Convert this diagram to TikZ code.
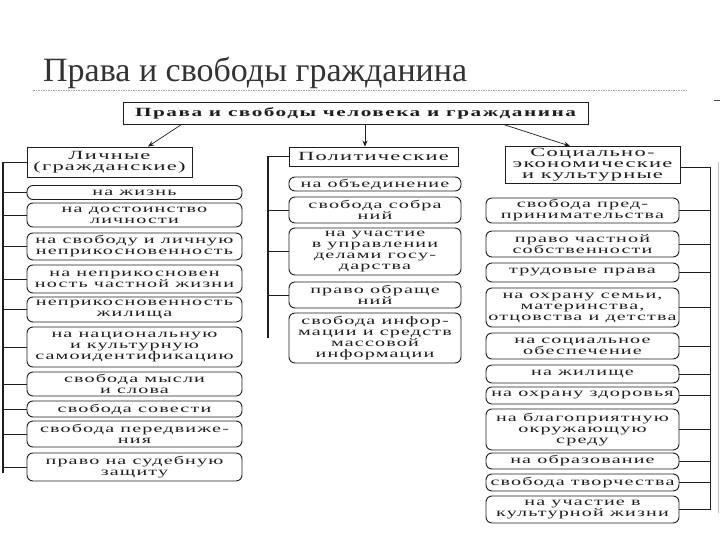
\documentclass[tikz,border=0pt]{standalone}
\usepackage{fontspec}
\setmainfont{Liberation Serif}
\newfontfamily\bxf[FakeStretch=1.75,LetterSpace=10]{Liberation Serif}
\newfontfamily\hdf[FakeStretch=1.8,LetterSpace=10]{Liberation Serif}
\newfontfamily\tpf[FakeStretch=1.7,LetterSpace=12]{Liberation Serif}
\newfontfamily\ttlf{Liberation Serif}
\usetikzlibrary{arrows.meta}
\definecolor{ink}{HTML}{1E1E1E}
\begin{document}
\begin{tikzpicture}[x=1pt,y=-1pt,
  box/.style={draw=ink,line width=0.9pt,rounded corners=6pt,inner sep=0pt,align=center,
    font=\bxf\fontsize{11.5}{11}\selectfont,text=ink},
  hdr/.style={draw=ink,line width=0.9pt,inner sep=0pt,align=center,
    font=\hdf\fontsize{12.5}{11.2}\selectfont,text=ink},
  conn/.style={draw=ink,line width=0.8pt},
  spine/.style={draw=ink,line width=1.4pt},
  arr/.style={draw=ink,line width=0.7pt,-{Stealth[length=6pt,width=5pt]}}]
\useasboundingbox (0,0) rectangle (720,540);
\fill[white] (0,0) rectangle (720,540);
% title
\node[anchor=base west,inner sep=0pt,text=black!80,font=\ttlf\fontsize{34}{36}\selectfont] (title) at (43,82) {Права и свободы гражданина};
\draw[black!35,line width=0.6pt,dash pattern=on 1.5pt off 1pt] (33,90) -- (688,90);
\draw[black!70,line width=0.6pt] (714,100) -- (720,100);
\draw[black!25,line width=1pt] (718,162) -- (718,513);
% top box
\node[hdr,minimum width=465pt,minimum height=22pt,font=\tpf\bfseries\fontsize{12.5}{12}\selectfont] (T) at (355.5,113) {Права и свободы человека и гражданина};
% left column
\node[hdr,minimum width=165pt,minimum height=30pt] (L0) at (109.5,162) {Личные\\(гражданские)};
\node[box,minimum width=215pt,minimum height=14pt] (L1) at (134.5,192.5) {на жизнь};
\node[box,minimum width=215pt,minimum height=24pt] (L2) at (134.5,215) {на достоинство\\личности};
\node[box,minimum width=215pt,minimum height=27pt] (L3) at (134.5,246.5) {на свободу и личную\\неприкосновенность};
\node[box,minimum width=215pt,minimum height=28pt] (L4) at (134.5,279) {на неприкосновен\\ность частной жизни};
\node[box,minimum width=215pt,minimum height=25pt] (L5) at (134.5,309.5) {неприкосновенность\\жилища};
\node[box,minimum width=215pt,minimum height=40pt] (L6) at (134.5,347) {на национальную\\и культурную\\самоидентификацию};
\node[box,minimum width=215pt,minimum height=24pt] (L7) at (134.5,384) {свобода мысли\\и слова};
\node[box,minimum width=215pt,minimum height=16pt] (L8) at (134.5,409) {свобода совести};
\node[box,minimum width=215pt,minimum height=26pt] (L9) at (134.5,434) {свобода передвиже-\\ния};
\node[box,minimum width=215pt,minimum height=28pt] (L10) at (134.5,467) {право на судебную\\защиту};
\coordinate (Lt) at (3,162);
\coordinate (Lb) at (3,473);
\draw[spine,line width=2.2pt] (Lt) -- (Lb);
\foreach \n in {L0,L1,L2,L3,L4,L5,L6,L7,L8,L9,L10}{\draw[conn] (\n.west) -- (\n.west -| Lt);}
% middle column
\node[hdr,minimum width=169pt,minimum height=19pt] (M0) at (373.5,156.5) {Политические};
\node[box,minimum width=172pt,minimum height=14pt] (M1) at (375,184) {на объединение};
\node[box,minimum width=172pt,minimum height=26pt] (M2) at (375,210) {свобода собра\\ний};
\node[box,minimum width=172pt,minimum height=47pt] (M3) at (375,251.5) {на участие\\в управлении\\делами госу-\\дарства};
\node[box,minimum width=172pt,minimum height=26pt] (M4) at (375,295) {право обраще\\ний};
\node[box,minimum width=172pt,minimum height=50pt] (M5) at (375,338) {свобода инфор-\\мации и средств\\массовой\\информации};
\coordinate (Mt) at (268,156.5);
\draw[spine] (Mt) -- (Mt |- M5.west);
\foreach \n in {M0,M2,M3,M4}{\draw[conn] (\n.west) -- (\n.west -| Mt);}
% right column
\node[hdr,minimum width=175pt,minimum height=37pt] (R0) at (592.5,165) {Социально-\\экономические\\и культурные};
\node[box,minimum width=193pt,minimum height=25pt] (R1) at (582.5,210.5) {свобода пред-\\принимательства};
\node[box,minimum width=193pt,minimum height=26pt] (R2) at (582.5,244) {право частной\\собственности};
\node[box,minimum width=193pt,minimum height=19pt] (R3) at (582.5,272.5) {трудовые права};
\node[box,minimum width=193pt,minimum height=39pt] (R4) at (582.5,307.5) {на охрану семьи,\\материнства,\\отцовства и детства};
\node[box,minimum width=193pt,minimum height=26pt] (R5) at (582.5,346) {на социальное\\обеспечение};
\node[box,minimum width=193pt,minimum height=18pt] (R6) at (582.5,374) {на жилище};
\node[box,minimum width=193pt,minimum height=17pt] (R7) at (582.5,395.5) {на охрану здоровья};
\node[box,minimum width=193pt,minimum height=41pt] (R8) at (582.5,429.5) {на благоприятную\\окружающую\\среду};
\node[box,minimum width=193pt,minimum height=16pt] (R9) at (582.5,461) {на образование};
\node[box,minimum width=193pt,minimum height=17pt] (R10) at (582.5,482.5) {свобода творчества};
\node[box,minimum width=193pt,minimum height=27pt] (R11) at (582.5,509.5) {на участие в\\культурной жизни};
\coordinate (Rt) at (710,167);
\draw[spine,line width=1pt] (Rt) -- (Rt |- R11.east);
\foreach \n in {R1,R2,R3,R4,R5,R6,R7,R8,R9,R10,R11}{\draw[conn] (\n.east) -- (\n.east -| Rt);}
\draw[conn] (Rt -| R0.east) -- (Rt);
% arrows
\draw[arr] ([xshift=59pt]T.south west) -- ([xshift=38.5pt]L0.north);
\draw[arr] ([xshift=9.5pt]T.south) -- ([xshift=-8.5pt]M0.north);
\draw[arr] ([xshift=-85pt]T.south east) -- ([xshift=-22.5pt]R0.north);
\end{tikzpicture}
\end{document}
